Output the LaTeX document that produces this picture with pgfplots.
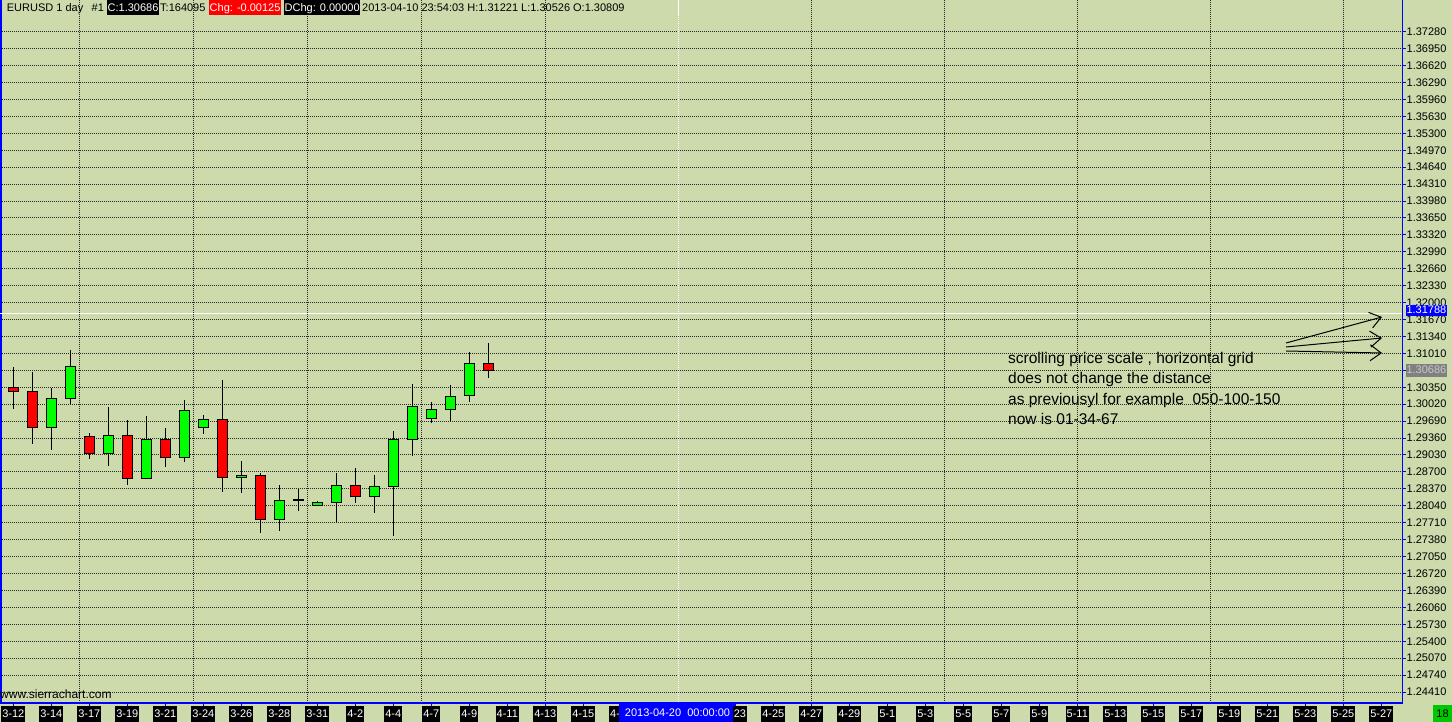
\documentclass[border=0pt]{standalone}
\usepackage{fontspec}
\setmainfont{Liberation Sans}
\usepackage{pgfplots}
\usepackage{pgfplotstable}
\pgfplotsset{compat=1.18}
\usetikzlibrary{arrows.meta}
\definecolor{bg}{RGB}{204,218,172}
\definecolor{gridc}{RGB}{40,40,40}
\definecolor{cgreen}{RGB}{0,255,0}
\definecolor{cred}{RGB}{255,0,0}
\definecolor{sblue}{RGB}{0,0,255}
\definecolor{lblgray}{RGB}{128,128,128}
\definecolor{lbltext}{RGB}{200,200,200}
\definecolor{grn18}{RGB}{0,200,0}
\newcommand{\fs}{\fontsize{11bp}{13bp}\selectfont}
% daily EURUSD bars: index, open, high, low, close
\pgfplotstableread{
i O H L C
0 1.30350 1.30745 1.29932 1.30272
1 1.30272 1.30648 1.29250 1.29562
2 1.29562 1.30336 1.29133 1.30135
3 1.30127 1.31077 1.30030 1.30759
4 1.29394 1.29453 1.28958 1.29063
5 1.29063 1.29966 1.28821 1.29414
6 1.29414 1.29712 1.28451 1.28576
7 1.28576 1.29790 1.28570 1.29336
8 1.29336 1.29556 1.28802 1.28985
9 1.28985 1.30102 1.28899 1.29901
10 1.29570 1.29810 1.29445 1.29726
11 1.29726 1.30492 1.28315 1.28595
12 1.28595 1.28913 1.28295 1.28634
13 1.28634 1.28673 1.27515 1.27769
14 1.27769 1.28445 1.27548 1.28147
15 1.28153 1.28367 1.27944 1.28153
16 1.28042 1.28127 1.28042 1.28108
17 1.28100 1.28673 1.27724 1.28439
18 1.28439 1.28776 1.28094 1.28217
19 1.28217 1.28640 1.27905 1.28420
20 1.28412 1.29498 1.27451 1.29336
21 1.29336 1.30414 1.29016 1.29979
22 1.29738 1.30063 1.29654 1.29921
23 1.29913 1.30394 1.29693 1.30174
24 1.30186 1.31038 1.30063 1.30817
25 1.30809 1.31221 1.30526 1.30686
}\candles
\begin{document}
\begin{tikzpicture}[x=1bp,y=1bp]
\fill[bg] (0,0) rectangle (1452,722);
\begin{axis}[
  at={(0bp,19bp)}, anchor=south west,
  scale only axis, width=1402bp, height=703bp,
  xmin=-0.7, xmax=73.09, ymin=1.24196, ymax=1.37899,
  axis line style={draw=none},
  xtick={0,2,4,6,8,10,12,14,16,18,20,22,24,26,28,30,40,42,44,46,48,50,52,54,56,58,60,62,64,66,68,70,72},
  xticklabels={3-12,3-14,3-17,3-19,3-21,3-24,3-26,3-28,3-31,4-2,4-4,4-7,4-9,4-11,4-13,4-15,4-25,4-27,4-29,5-1,5-3,5-5,5-7,5-9,5-11,5-13,5-15,5-17,5-19,5-21,5-23,5-25,5-27},
  ytick={1.2441,1.2474,1.2507,1.2540,1.2573,1.2606,1.2639,1.2672,1.2705,1.2738,1.2771,1.2804,1.2837,1.2870,1.2903,1.2936,1.2969,1.3002,1.3035,1.3068,1.3101,1.3134,1.3167,1.3200,1.3233,1.3266,1.3299,1.3332,1.3365,1.3398,1.3431,1.3464,1.3497,1.3530,1.3563,1.3596,1.3629,1.3662,1.3695,1.3728},
  xtick pos=left, ytick pos=right, xticklabel pos=left, yticklabel pos=right,
  major tick length=0pt,
  ticklabel style={font=\fs},
  yticklabel style={/pgf/number format/fixed, /pgf/number format/fixed zerofill, /pgf/number format/precision=5, /pgf/number format/assume math mode=true, anchor=west, inner sep=0pt, xshift=4.5bp},
  xticklabel style={fill=black, text=white, inner xsep=1bp, inner ysep=2.5bp, text height=8.5bp, text depth=2.5bp, anchor=north, yshift=-3bp},
  ymajorgrids, xmajorgrids=false,
  every axis grid/.style={},
  major grid style={color=gridc, line width=1bp, dash pattern=on 1bp off 1bp},
  extra x ticks={3.5,9.5,15.5,21.5,28,42,49,56,63,70},
  extra x tick labels={},
  extra x tick style={xmajorgrids=true, major tick length=0pt, xticklabel style={fill=none, draw=none}},
]
% wicks: high to low
\addplot[draw=none, mark=none, forget plot,
  error bars/.cd, y dir=both, y explicit, error mark=none,
  error bar style={draw=black, line width=1bp, solid}]
  table[x=i, y=H, y error plus expr=0, y error minus expr=\thisrow{H}-\thisrow{L}] {\candles};
% bodies: open/close rectangles
\tikzset{body/.style={draw=black, line width=1bp, solid, mark=none}}
\addplot[body, fill=cred]   coordinates {(-0.275,1.30272) (0.275,1.30272) (0.275,1.30350) (-0.275,1.30350)} --cycle;
\addplot[body, fill=cred]   coordinates {(0.725,1.29562) (1.275,1.29562) (1.275,1.30272) (0.725,1.30272)} --cycle;
\addplot[body, fill=cgreen] coordinates {(1.725,1.29562) (2.275,1.29562) (2.275,1.30135) (1.725,1.30135)} --cycle;
\addplot[body, fill=cgreen] coordinates {(2.725,1.30127) (3.275,1.30127) (3.275,1.30759) (2.725,1.30759)} --cycle;
\addplot[body, fill=cred]   coordinates {(3.725,1.29063) (4.275,1.29063) (4.275,1.29394) (3.725,1.29394)} --cycle;
\addplot[body, fill=cgreen] coordinates {(4.725,1.29063) (5.275,1.29063) (5.275,1.29414) (4.725,1.29414)} --cycle;
\addplot[body, fill=cred]   coordinates {(5.725,1.28576) (6.275,1.28576) (6.275,1.29414) (5.725,1.29414)} --cycle;
\addplot[body, fill=cgreen] coordinates {(6.725,1.28576) (7.275,1.28576) (7.275,1.29336) (6.725,1.29336)} --cycle;
\addplot[body, fill=cred]   coordinates {(7.725,1.28985) (8.275,1.28985) (8.275,1.29336) (7.725,1.29336)} --cycle;
\addplot[body, fill=cgreen] coordinates {(8.725,1.28985) (9.275,1.28985) (9.275,1.29901) (8.725,1.29901)} --cycle;
\addplot[body, fill=cgreen] coordinates {(9.725,1.29570) (10.275,1.29570) (10.275,1.29726) (9.725,1.29726)} --cycle;
\addplot[body, fill=cred]   coordinates {(10.725,1.28595) (11.275,1.28595) (11.275,1.29726) (10.725,1.29726)} --cycle;
\addplot[body, fill=cgreen] coordinates {(11.725,1.28595) (12.275,1.28595) (12.275,1.28634) (11.725,1.28634)} --cycle;
\addplot[body, fill=cred]   coordinates {(12.725,1.27769) (13.275,1.27769) (13.275,1.28634) (12.725,1.28634)} --cycle;
\addplot[body, fill=cgreen] coordinates {(13.725,1.27769) (14.275,1.27769) (14.275,1.28147) (13.725,1.28147)} --cycle;
\addplot[body, fill=black]  coordinates {(14.725,1.28150) (15.275,1.28150) (15.275,1.28156) (14.725,1.28156)} --cycle;
\addplot[body, fill=cgreen] coordinates {(15.725,1.28042) (16.275,1.28042) (16.275,1.28108) (15.725,1.28108)} --cycle;
\addplot[body, fill=cgreen] coordinates {(16.725,1.28100) (17.275,1.28100) (17.275,1.28439) (16.725,1.28439)} --cycle;
\addplot[body, fill=cred]   coordinates {(17.725,1.28217) (18.275,1.28217) (18.275,1.28439) (17.725,1.28439)} --cycle;
\addplot[body, fill=cgreen] coordinates {(18.725,1.28217) (19.275,1.28217) (19.275,1.28420) (18.725,1.28420)} --cycle;
\addplot[body, fill=cgreen] coordinates {(19.725,1.28412) (20.275,1.28412) (20.275,1.29336) (19.725,1.29336)} --cycle;
\addplot[body, fill=cgreen] coordinates {(20.725,1.29336) (21.275,1.29336) (21.275,1.29979) (20.725,1.29979)} --cycle;
\addplot[body, fill=cgreen] coordinates {(21.725,1.29738) (22.275,1.29738) (22.275,1.29921) (21.725,1.29921)} --cycle;
\addplot[body, fill=cgreen] coordinates {(22.725,1.29913) (23.275,1.29913) (23.275,1.30174) (22.725,1.30174)} --cycle;
\addplot[body, fill=cgreen] coordinates {(23.725,1.30186) (24.275,1.30186) (24.275,1.30817) (23.725,1.30817)} --cycle;
\addplot[body, fill=cred]   coordinates {(24.725,1.30686) (25.275,1.30686) (25.275,1.30809) (24.725,1.30809)} --cycle;
\end{axis}
% frame lines and ticks
\draw[sblue, line width=1.5bp] (0.75,19) -- (0.75,722);
\draw[sblue, line width=1.5bp] (1402.5,19) -- (1402.5,722);
\draw[sblue, line width=1.5bp] (0,19) -- (1403,19);
\foreach \i in {0,2,...,72} \draw[sblue, line width=1bp] ({13.3+19*\i},19) -- ({13.3+19*\i},16);
\foreach \k in {0,...,39} \draw[sblue, line width=1bp] (1403,{29.98+16.93*\k}) -- (1406,{29.98+16.93*\k});
% current price line and cursor
\draw[white, line width=1bp] (0,408.5) -- (1402,408.5);
\draw[white, line width=1bp, dash pattern=on 1bp off 1bp] (678.7,19.8) -- (678.7,707);
\draw[white, line width=1bp] (678.7,707) -- (678.7,722);
% header
\tikzset{hdr/.style={anchor=base west, inner xsep=0.5bp, inner ysep=0bp, text height=12bp, text depth=3bp, font=\fs}}
\node[hdr] at (6.2,710) {EURUSD 1 day};
\node[hdr] at (91,710) {\#1};
\node[hdr, fill=black, text=white] at (107,710) {C:1.30686};
\node[hdr] at (159.5,710) {T:164095};
\node[hdr, fill=cred, text=white] at (209,710) {Chg: -0.00125};
\node[hdr, fill=black, text=white] at (284,710) {DChg: 0.00000};
\node[hdr] at (361.5,710) {2013-04-10 23:54:03 H:1.31221 L:1.30526 O:1.30809};
% price scale highlight labels
\node[anchor=west, fill=sblue, text=white, inner xsep=0.8bp, inner ysep=0.5bp, text height=8bp, text depth=2bp, font=\fs] at (1405.5,411) {1.31788};
\node[anchor=west, fill=lblgray, text=lbltext, inner xsep=0.8bp, inner ysep=1.5bp, text height=8bp, text depth=2bp, font=\fs] at (1405.5,351) {1.30686};
% annotation
\begin{scope}[font=\fontsize{15.5bp}{18bp}\selectfont]
\node[anchor=base west, inner sep=0pt] at (1008,358.7) {scrolling price scale , horizontal grid};
\node[anchor=base west, inner sep=0pt] at (1008,338.1) {does not change the distance};
\node[anchor=base west, inner sep=0pt] at (1008,317.6) {as previousyl for example\ \ 050-100-150};
\node[anchor=base west, inner sep=0pt] at (1008,297.0) {now is 01-34-67};
\end{scope}
\draw[line width=1bp, -{Straight Barb[length=11bp,width=16bp]}] (1286,379) -- (1382,405);
\draw[line width=1bp, -{Straight Barb[length=11bp,width=16bp]}] (1286,375) -- (1382,384);
\draw[line width=1bp, -{Straight Barb[length=11bp,width=16bp]}] (1286,371) -- (1382,369);
% bottom items
\node[anchor=base west, inner sep=0pt, font=\fontsize{12bp}{14bp}\selectfont] at (0,23) {www.sierrachart.com};
\tikzset{xlb/.style={fill=black, text=white, font=\fs, inner xsep=1bp, inner ysep=2.5bp, text height=8.5bp, text depth=2.5bp}}
\node[xlb, anchor=north west] at (609,16) {4-};
\fill[sblue] (619,0) rectangle (736,18);
\node[text=white, font=\fs, inner sep=0pt] at (677.5,9) {2013-04-20\ \ 00:00:00};
\node[xlb, anchor=north east] at (747.3,16) {23};
\fill[grn18] (1433,0) rectangle (1452,17);
\node[text=black, font=\fs, inner sep=0pt] at (1442.5,8.5) {18};
\pgfresetboundingbox
\path[use as bounding box] (0,0) rectangle (1452,722);
\end{tikzpicture}
\end{document}
